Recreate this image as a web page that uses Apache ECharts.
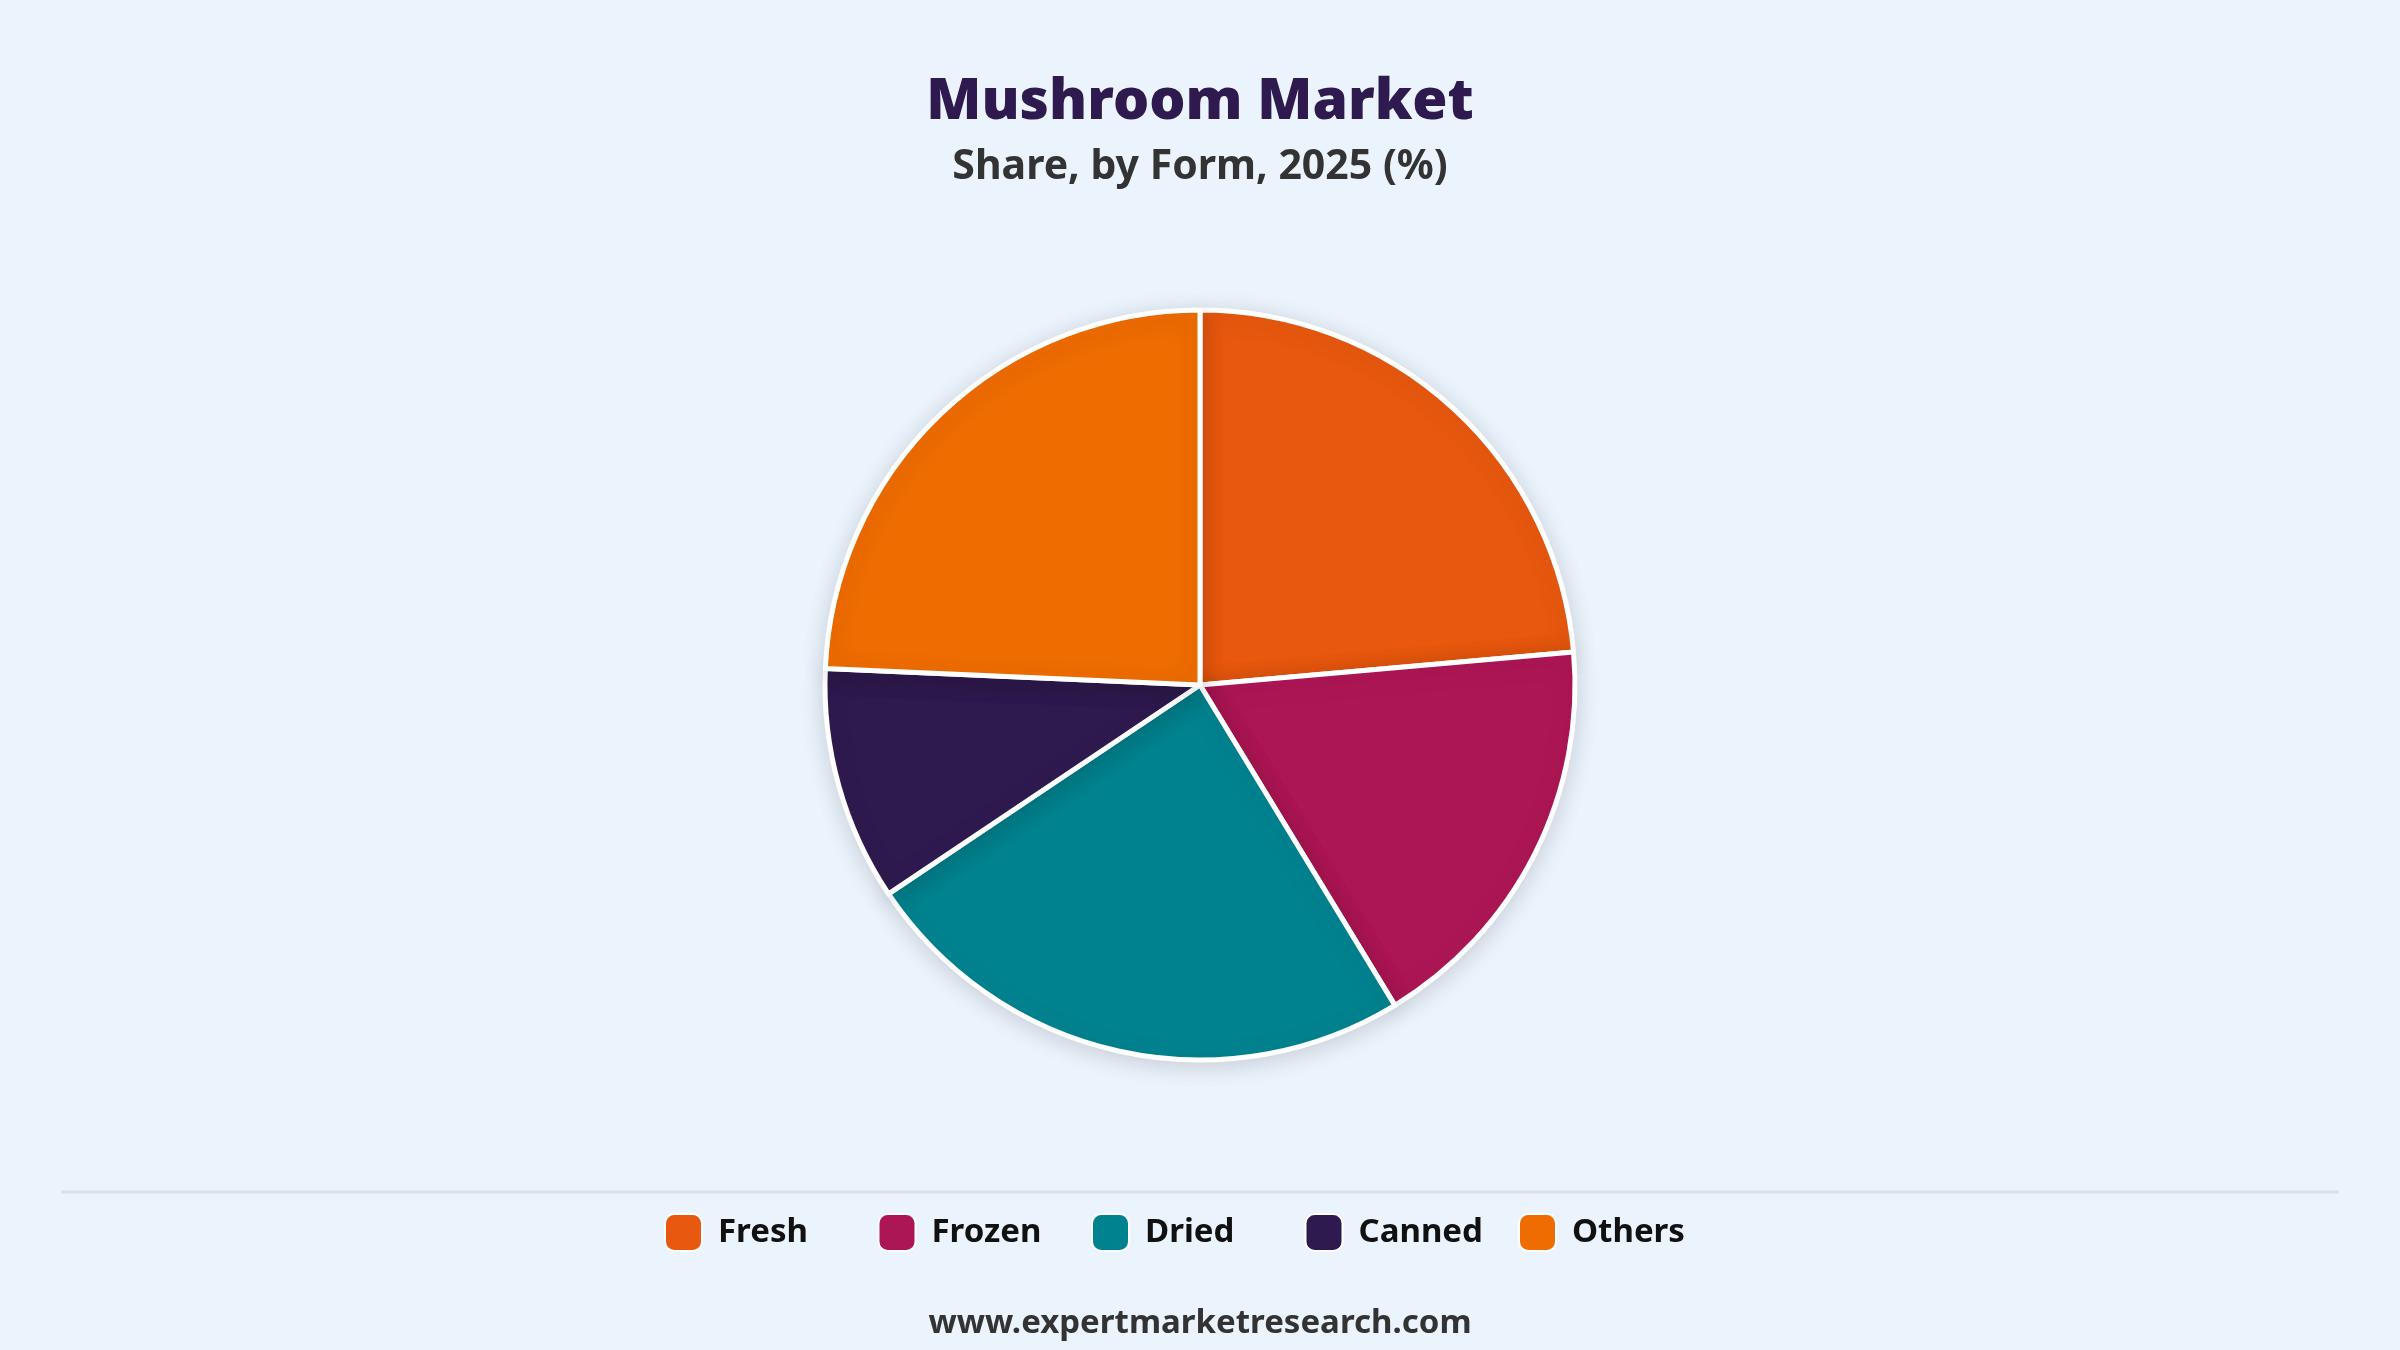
<!DOCTYPE html>
<html>
<head>
<meta charset="utf-8">
<style>
html,body{margin:0;padding:0;background:#EBF3FC;}
#chart{width:2400px;height:1350px;}
</style>
<script src="https://cdn.jsdelivr.net/npm/echarts@6/dist/echarts.min.js"></script>
</head>
<body>
<div id="chart"></div>
<script>
const categories = ["Fresh", "Frozen", "Dried", "Canned", "Others"];
const shares = [23.6, 17.7, 24.3, 10.1, 24.3];
const colors = ["#E8580F", "#AD1654", "#00838F", "#2E1A4E", "#EE6C00"];
const titleText = "Mushroom Market";
const subtitleText = "Share, by Form, 2025 (%)";
const footerText = "www.expertmarketresearch.com";

const FONT = "'Noto Sans', 'Open Sans', sans-serif";
const LEGEND_LEFT = 659, LEGEND_STEP = 213.5;
const chart = echarts.init(document.getElementById('chart'));
chart.setOption({
  backgroundColor: '#EBF3FC',
  animation: false,
  title: [
    { text: titleText, left: 'center', top: 64,
      textStyle: { fontFamily: FONT, fontSize: 57, fontWeight: 900, color: '#2E1A4E', lineHeight: 68 } },
    { text: subtitleText, left: 'center', top: 138,
      textStyle: { fontFamily: FONT, fontSize: 41, fontWeight: 'bold', color: '#333333', lineHeight: 48 } },
    { text: footerText, left: 'center', top: 1297,
      textStyle: { fontFamily: FONT, fontSize: 33, fontWeight: 'bold', color: '#333333', lineHeight: 44 } }
  ],
  legend: categories.map((c, i) => ({
    left: LEGEND_LEFT + i * LEGEND_STEP, top: 1208,
    orient: 'horizontal',
    itemWidth: 37, itemHeight: 37,
    icon: 'roundRect',
    selectedMode: false,
    data: [c],
    textStyle: { fontFamily: FONT, fontSize: 33, fontWeight: 'bold', color: '#111111',
      padding: [0, 0, 0, 11] }
  })),
  graphic: [{
    type: 'line', silent: true,
    shape: { x1: 61, y1: 1192, x2: 2339, y2: 1192 },
    style: { stroke: '#DCDFE3', lineWidth: 3 }
  }],
  series: [{
    type: 'pie',
    center: [1200, 685],
    radius: [0, 375],
    startAngle: 90,
    clockwise: true,
    label: { show: false },
    labelLine: { show: false },
    itemStyle: { borderColor: '#FFFFFF', borderWidth: 5,
      shadowBlur: 24, shadowColor: 'rgba(0,0,0,0.14)', shadowOffsetY: 4 },
    emphasis: { disabled: true },
    data: categories.map((c, i) => ({ name: c, value: shares[i], itemStyle: { color: colors[i] } }))
  }]
});
</script>
</body>
</html>
